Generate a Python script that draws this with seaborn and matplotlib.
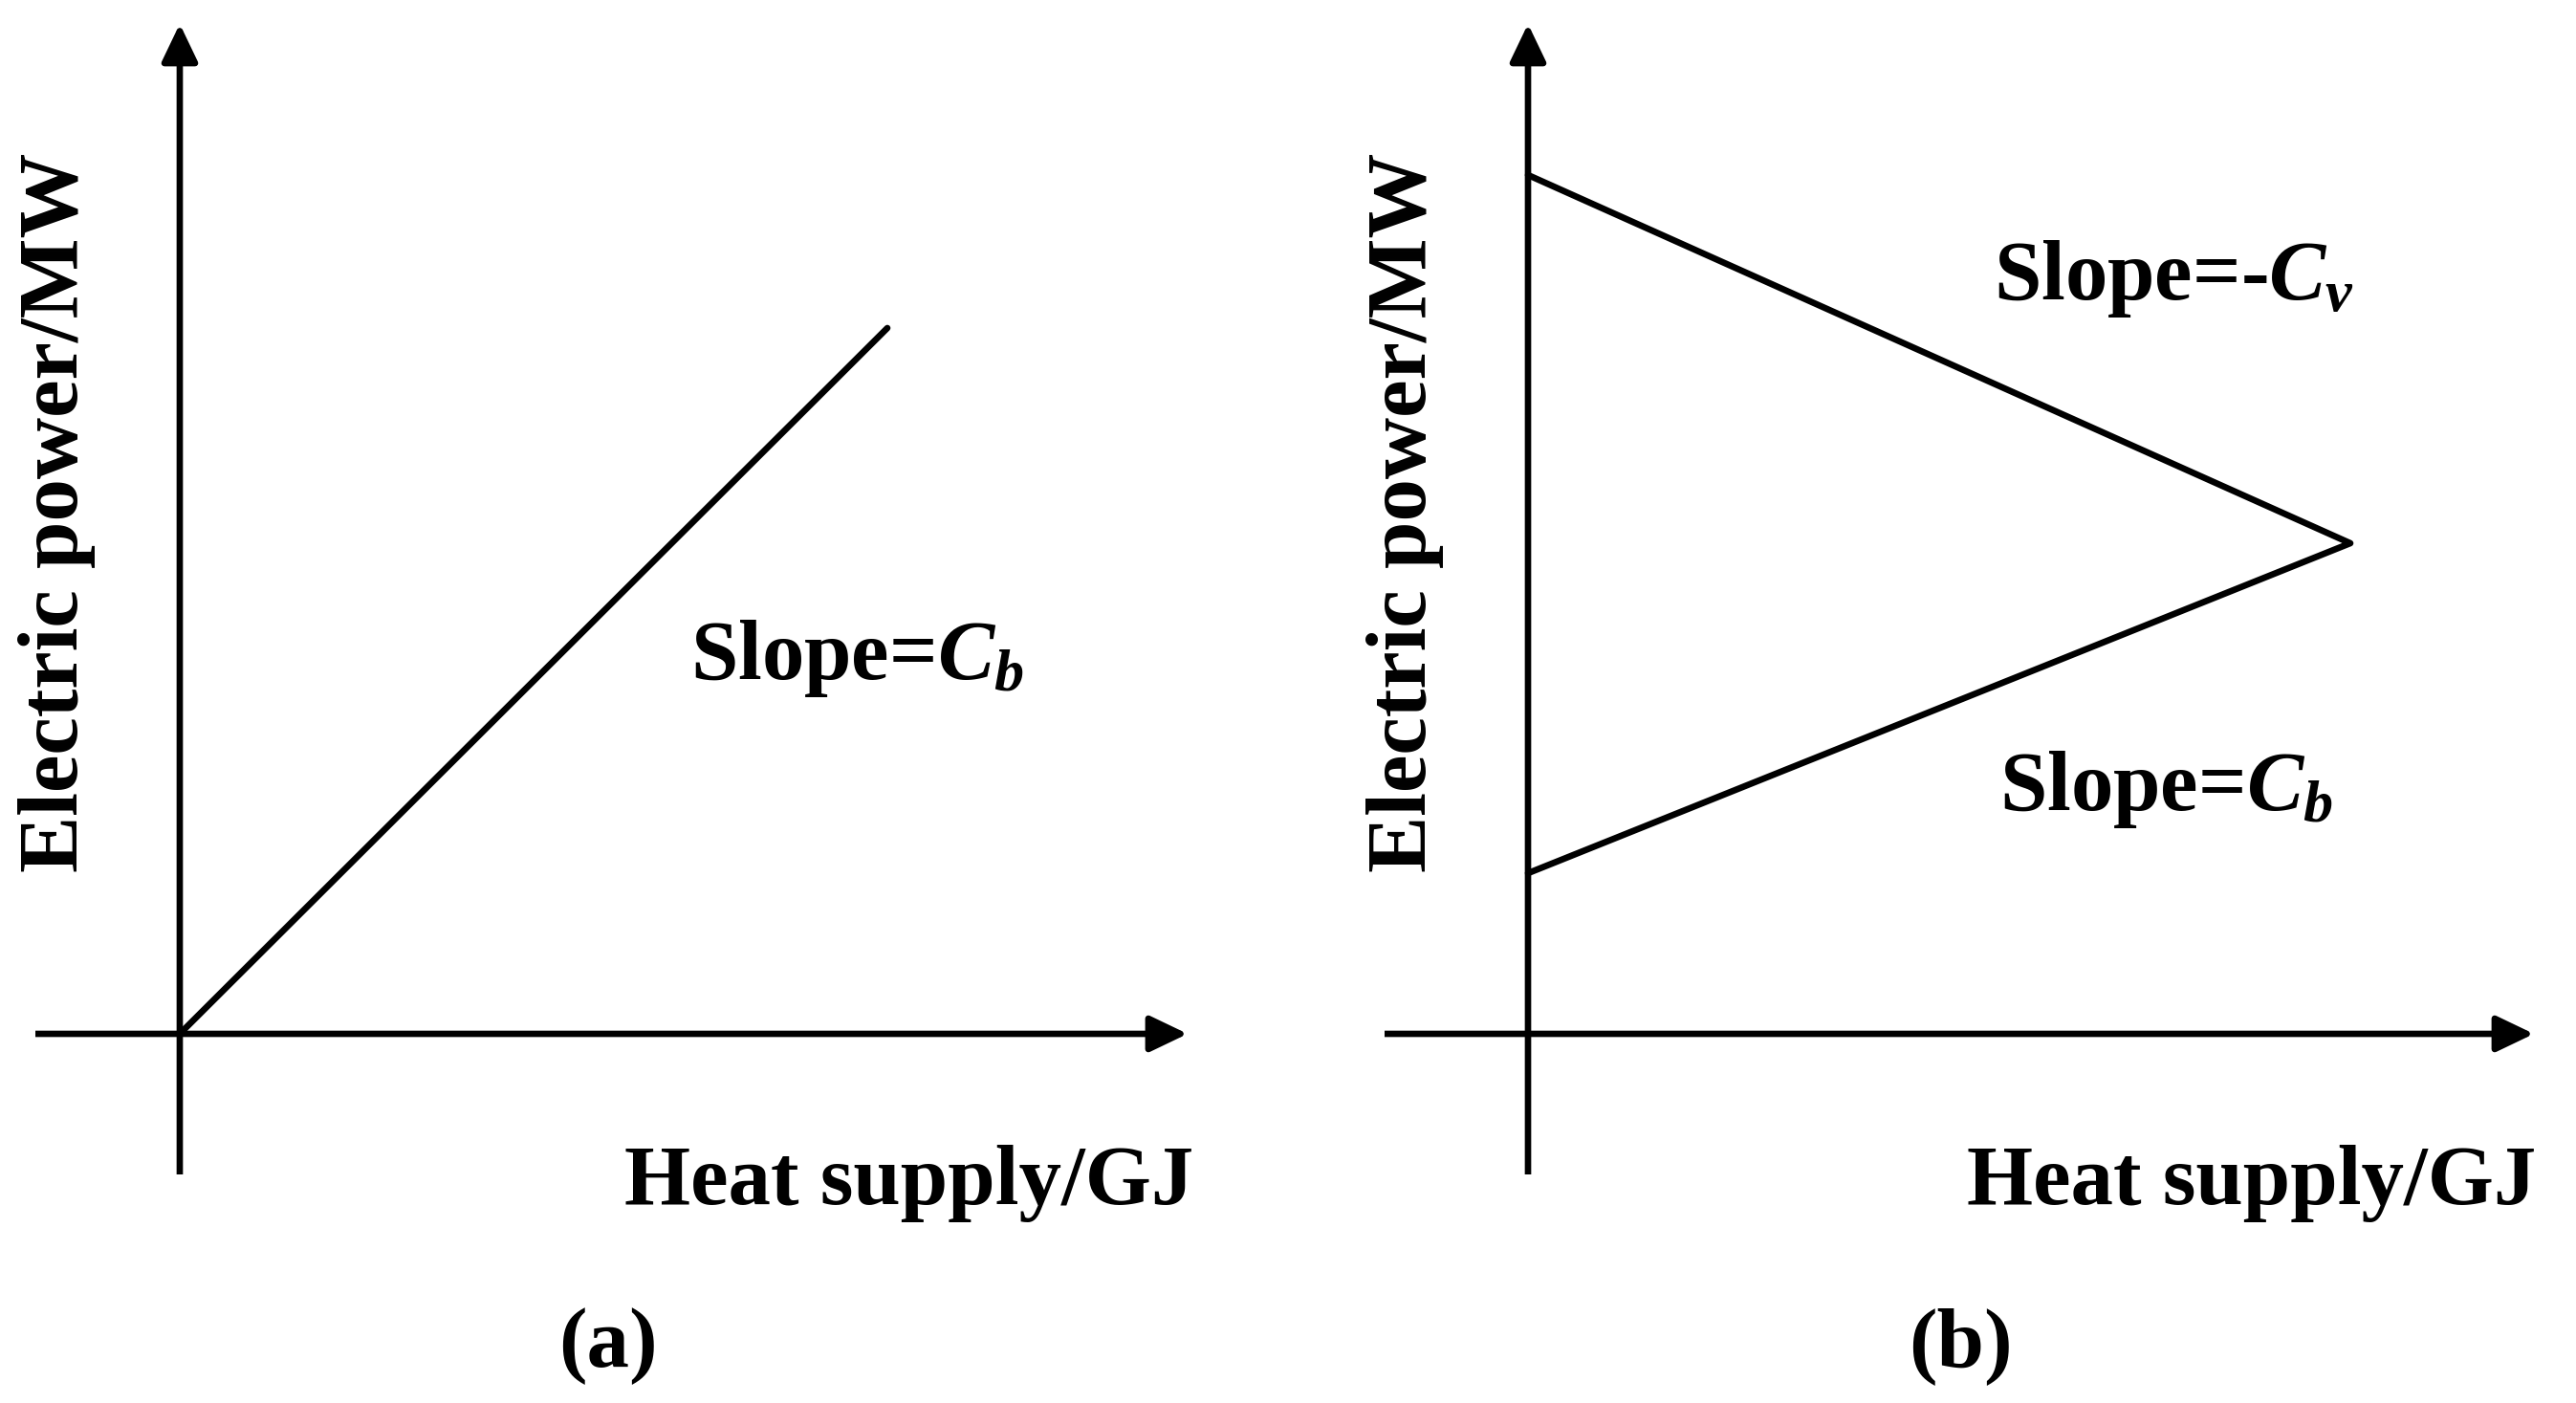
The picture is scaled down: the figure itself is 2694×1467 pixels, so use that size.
import matplotlib
matplotlib.use("Agg")
import matplotlib.pyplot as plt
from matplotlib.patches import FancyArrowPatch
import pandas as pd
import seaborn as sns

# schematic values (units: tenths of a pixel-ish, origin at the axes cross)
heat_a = [0, 74.0]
power_a = [0, 73.8]

heat_b = [0, 86.0, 0]
power_b = [89.8, 51.3, 16.8]

x_label = "Heat supply/GJ"
y_label = "Electric power/MW"
slope_cb = "Slope=$C_b$"
slope_cv = "Slope=-$C_v$"
panel_tags = ["(a)", "(b)"]

sns.set_style("white")
plt.rcParams["font.family"] = ["Liberation Serif", "DejaVu Serif"]
plt.rcParams["font.weight"] = "bold"
plt.rcParams["text.color"] = "black"
plt.rcParams["mathtext.fontset"] = "custom"
plt.rcParams["mathtext.rm"] = "Liberation Serif:bold"
plt.rcParams["mathtext.it"] = "Liberation Serif:italic:bold"
plt.rcParams["mathtext.bf"] = "Liberation Serif:bold"

W, H = 2694, 1467
fig = plt.figure(figsize=(W / 100, H / 100), dpi=100)
LW = 4.8
FS = 64


def make_axes(left_px, right_px, origin_px):
    # axes box in pixels: x from left_px to right_px, y from 25 to 1228
    top, bottom, oy = 25, 1228, 1081
    ax = fig.add_axes([left_px / W, (H - bottom) / H,
                       (right_px - left_px) / W, (bottom - top) / H])
    ax.set_xlim((left_px - origin_px) / 10, (right_px - origin_px) / 10)
    ax.set_ylim((oy - bottom) / 10, (oy - top) / 10)
    ax.axis("off")
    return ax


def draw_cross(ax):
    x0, x1 = ax.get_xlim()
    y0, y1 = ax.get_ylim()
    for a, b in [((x0, 0), (x1, 0)), ((0, y0), (0, y1))]:
        arr = FancyArrowPatch(a, b, arrowstyle="-|>,head_length=24,head_width=11.5",
                              mutation_scale=1, lw=LW, color="black",
                              shrinkA=0, shrinkB=0, capstyle="round")
        ax.add_patch(arr)


# panel (a)
ax1 = make_axes(37, 1242, 188)
draw_cross(ax1)
sns.lineplot(x=heat_a, y=power_a, ax=ax1, color="black", lw=LW,
             sort=False, estimator=None, solid_capstyle="round")
ax1.text(53.4, 37.1, slope_cb, fontsize=FS, fontweight="bold", va="baseline")
ax1.text(106.0, -17.8, x_label, fontsize=FS, fontweight="bold", ha="right", va="baseline")
ax1.text(-12.8, 54.5, y_label, fontsize=FS, fontweight="bold", rotation=90,
         ha="center", va="center")
ax1.text(44.8, -34.8, panel_tags[0], fontsize=FS, fontweight="bold", ha="center", va="baseline")

# panel (b)
ax2 = make_axes(1448, 2650, 1598)
draw_cross(ax2)
sns.lineplot(x=heat_b, y=power_b, ax=ax2, color="black", lw=LW,
             sort=False, estimator=None, solid_capstyle="round")
ax2.text(48.7, 76.8, slope_cv, fontsize=FS, fontweight="bold", va="baseline")
ax2.text(49.3, 23.4, slope_cb, fontsize=FS, fontweight="bold", va="baseline")
ax2.text(105.4, -17.8, x_label, fontsize=FS, fontweight="bold", ha="right", va="baseline")
ax2.text(-12.9, 54.5, y_label, fontsize=FS, fontweight="bold", rotation=90,
         ha="center", va="center")
ax2.text(45.2, -34.8, panel_tags[1], fontsize=FS, fontweight="bold", ha="center", va="baseline")

fig.savefig("out.png", dpi=100, facecolor="white")
